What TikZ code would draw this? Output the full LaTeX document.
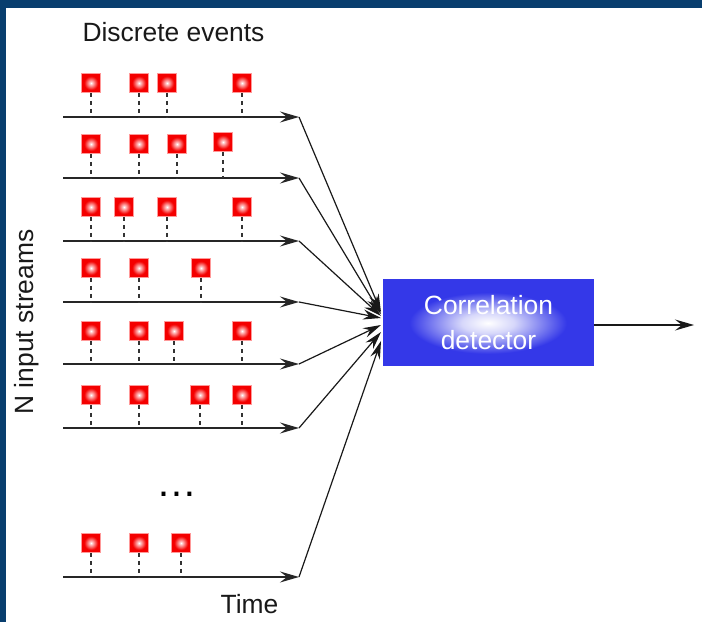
\documentclass[tikz,border=0pt]{standalone}
\usepackage{fontspec}
\setmainfont{Liberation Sans}
\usetikzlibrary{arrows.meta}

\definecolor{framecol}{RGB}{8,62,110}
\definecolor{detblue}{RGB}{52,56,232}
\definecolor{evred}{RGB}{244,0,0}

% glowing red event marker and the soft highlight inside the detector
% (the path's bounding box maps onto the central 50bp square of a shading)
\pgfdeclareradialshading{evglow}{\pgfpoint{0bp}{0bp}}{%
  color(0bp)=(white); color(5bp)=(red!30!white); color(18bp)=(evred);
  color(25bp)=(evred); color(50bp)=(evred)}
\pgfdeclareradialshading{boxglow}{\pgfpoint{0bp}{0bp}}{%
  color(0bp)=(white); color(8bp)=(white!80!detblue); color(24bp)=(detblue);
  color(25bp)=(detblue); color(50bp)=(detblue)}

\begin{document}
\begin{tikzpicture}[x=1bp, y=-1bp,
  event/.style={minimum size=19bp, inner sep=0pt, shading=evglow,
                draw=red!40!white, line width=0.8bp},
  stem/.style={dash pattern=on 4.5bp off 3.5bp, line width=1.3bp, black!80},
  timeline/.style={line width=1.8bp, black!85,
                   -{Stealth[length=19bp, width=11bp, inset=7bp]}},
  feed/.style={line width=1.2bp, black!90,
               -{Stealth[length=18bp, width=10bp, inset=6bp]}},
  outarrow/.style={line width=1.5bp, black!90,
               -{Stealth[length=19bp, width=11bp, inset=7bp]}},
  label/.style={font=\fontsize{26.5}{30}\selectfont, text=black!90, inner sep=0pt},
  detector/.style={fill=detblue, minimum width=211bp, minimum height=87bp,
                   inner sep=0pt}
]
\useasboundingbox (0,0) rectangle (702,622);

% frame bars
\fill[framecol] (0,0) rectangle (702,8);
\fill[framecol] (0,0) rectangle (6,622);

% input streams: row / line y / markers (x and y)
\foreach \r/\ly/\marks in {
  1/117/{91/83,139/83,167/83,242/83},
  2/178/{91/144,139/144,177/144,223/142},
  3/241/{91/207,124/207,167/207,242/207},
  4/302/{91/268,139/268,201/268},
  5/364/{91/331,139/331,174/331,242/331},
  6/428/{91/395,139/395,200/395,242/395},
  7/577/{91/543,139/543,181/543}} {
  \coordinate (t\r s) at (63,\ly);
  \coordinate (t\r e) at (299,\ly);
  \draw[timeline] (t\r s) -- (t\r e);
  \foreach \mx/\my in \marks {
    \node[event] (e\r-\mx) at (\mx,\my) {};
    \draw[stem] (e\r-\mx.south) -- (e\r-\mx.south |- t\r s);
  }
}

% correlation detector
\node[detector] (det) at (488.5,322.5) {};
\shade[shading=boxglow] (488,323) ellipse [x radius=82, y radius=32];
\node[label, text=white, align=center, font=\fontsize{26.5}{35}\selectfont]
  (detlabel) at (det.center) {Correlation\\detector};

% streams feeding the detector
\foreach \r/\ty in {1/312,2/314,3/316,4/318,5/325,6/332,7/341} {
  \coordinate (in\r) at (381,\ty);
  \draw[feed] (t\r e) -- (in\r);
}

% detector output
\coordinate (out) at (694,325);
\draw[outarrow] (det.east |- out) -- (out);

% labels
\node[label, anchor=base] (disc) at (173.5,41.5) {Discrete events};
\node[label, anchor=base] (time) at (249.5,613) {Time};
\node[label, anchor=base, rotate=90] (nstr) at (33,322) {N input streams};
\node[font=\fontsize{41}{45}\selectfont, inner sep=0pt, anchor=base]
  (dots) at (177,496.5) {…};
\end{tikzpicture}
\end{document}
